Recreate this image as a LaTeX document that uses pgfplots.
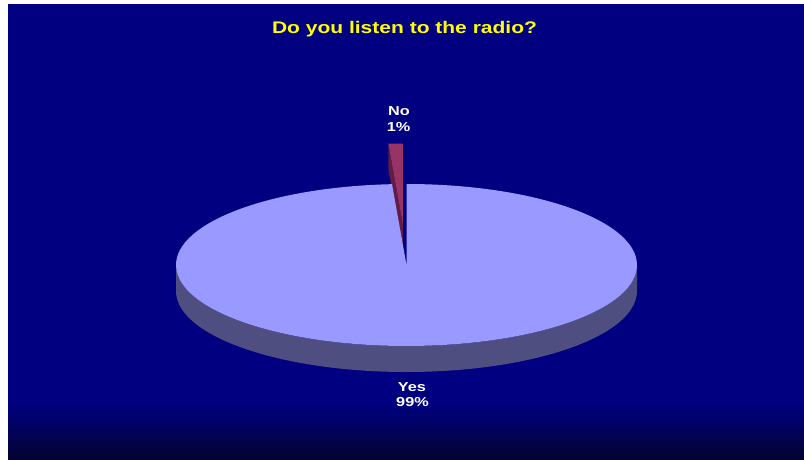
\documentclass[border=0pt]{standalone}
\usepackage{pgfplots}
\pgfplotsset{compat=1.18}
\usepackage{pgfplotstable}
\usepackage{fontspec}
\setmainfont{Liberation Sans}[FakeStretch=1.25]
\definecolor{bgnavy}{RGB}{0,0,128}
\definecolor{bgdark}{RGB}{3,3,48}
\definecolor{yestop}{RGB}{153,153,255}
\definecolor{yesside}{RGB}{78,79,128}
\definecolor{notop}{RGB}{153,51,102}
\definecolor{noside}{RGB}{96,28,66}
\definecolor{titleyellow}{RGB}{255,255,0}

\pgfplotstableread{
label value
Yes 99
No 1
}\piedata

\begin{document}%
\begin{tikzpicture}
\pgfplotstablegetelem{0}{value}\of\piedata \let\yesval\pgfplotsretval
\pgfplotstablegetelem{1}{value}\of\piedata \let\noval\pgfplotsretval
% pie geometry (pixel units, y upward)
\def\cx{406.5}\def\cy{194}\def\rx{230.5}\def\ry{81}\def\depth{26}\def\expl{0.5}
\pgfmathsetmacro\noang{360*\noval/(\yesval+\noval)}
\pgfmathsetmacro\aone{90}
\pgfmathsetmacro\atwo{90+\noang}
\pgfmathsetmacro\amid{90+\noang/2}
\pgfmathsetmacro\ex{\expl*\rx*cos(\amid)}
\pgfmathsetmacro\ey{\expl*\ry*sin(\amid)}
\pgfmathsetmacro\tx{\cx+\ex}
\pgfmathsetmacro\ty{\cy+\ey}
\pgfmathsetmacro\tyb{\ty-\depth}
\pgfmathsetmacro\ronex{\tx+\rx*cos(\aone)}
\pgfmathsetmacro\roney{\ty+\ry*sin(\aone)}
\pgfmathsetmacro\rtwox{\tx+\rx*cos(\atwo)}
\pgfmathsetmacro\rtwoy{\ty+\ry*sin(\atwo)}
\pgfmathsetmacro\rtwoyb{\rtwoy-\depth}
\pgfmathsetmacro\yrx{\cx+\rx*cos(\atwo)}
\pgfmathsetmacro\yry{\cy+\ry*sin(\atwo)}
\pgfmathsetmacro\lx{\cx-\rx}
\begin{axis}[x=1pt,y=1pt,xmin=0,xmax=804,ymin=0,ymax=459,hide axis,clip=false]
\fill[white] (axis cs:0,0) rectangle (axis cs:804,459);
\fill[bgnavy] (axis cs:8,0) rectangle (axis cs:804,455);
\shade[top color=bgnavy,bottom color=bgdark] (axis cs:8,0) rectangle (axis cs:804,55);
% No slice (exploded)
\fill[noside] (axis cs:\tx,\ty) -- (axis cs:\rtwox,\rtwoy) -- (axis cs:\rtwox,\rtwoyb) -- (axis cs:\tx,\tyb) -- cycle;
\fill[notop] (axis cs:\tx,\ty) -- (axis cs:\ronex,\roney) arc[start angle=\aone, end angle=\atwo, x radius=\rx pt, y radius=\ry pt] -- cycle;
% Yes slice side
\fill[yesside] (axis cs:\lx,\cy) arc[start angle=180, end angle=360, x radius=\rx pt, y radius=\ry pt] -- ++(0pt,-\depth pt) arc[start angle=0, end angle=-180, x radius=\rx pt, y radius=\ry pt] -- cycle;
% Yes slice top
\fill[yestop] (axis cs:\cx,\cy) -- (axis cs:\yrx,\yry) arc[start angle=\atwo, end angle=450, x radius=\rx pt, y radius=\ry pt] -- cycle;
% texts
\node[anchor=base, text=titleyellow, font=\bfseries\fontsize{16.8}{19}\selectfont] at (axis cs:404.5,425.7) {Do you listen to the radio?};
\node[anchor=base, text=white, font=\bfseries\fontsize{13}{15}\selectfont] at (axis cs:399,343.3) {No};
\node[anchor=base, text=white, font=\bfseries\fontsize{13}{15}\selectfont] at (axis cs:398.5,327.3) {1\%};
\node[anchor=base, text=white, font=\bfseries\fontsize{13}{15}\selectfont] at (axis cs:412,68) {Yes};
\node[anchor=base, text=white, font=\bfseries\fontsize{13}{15}\selectfont] at (axis cs:412.5,52.3) {99\%};
\end{axis}
\end{tikzpicture}%
\end{document}
